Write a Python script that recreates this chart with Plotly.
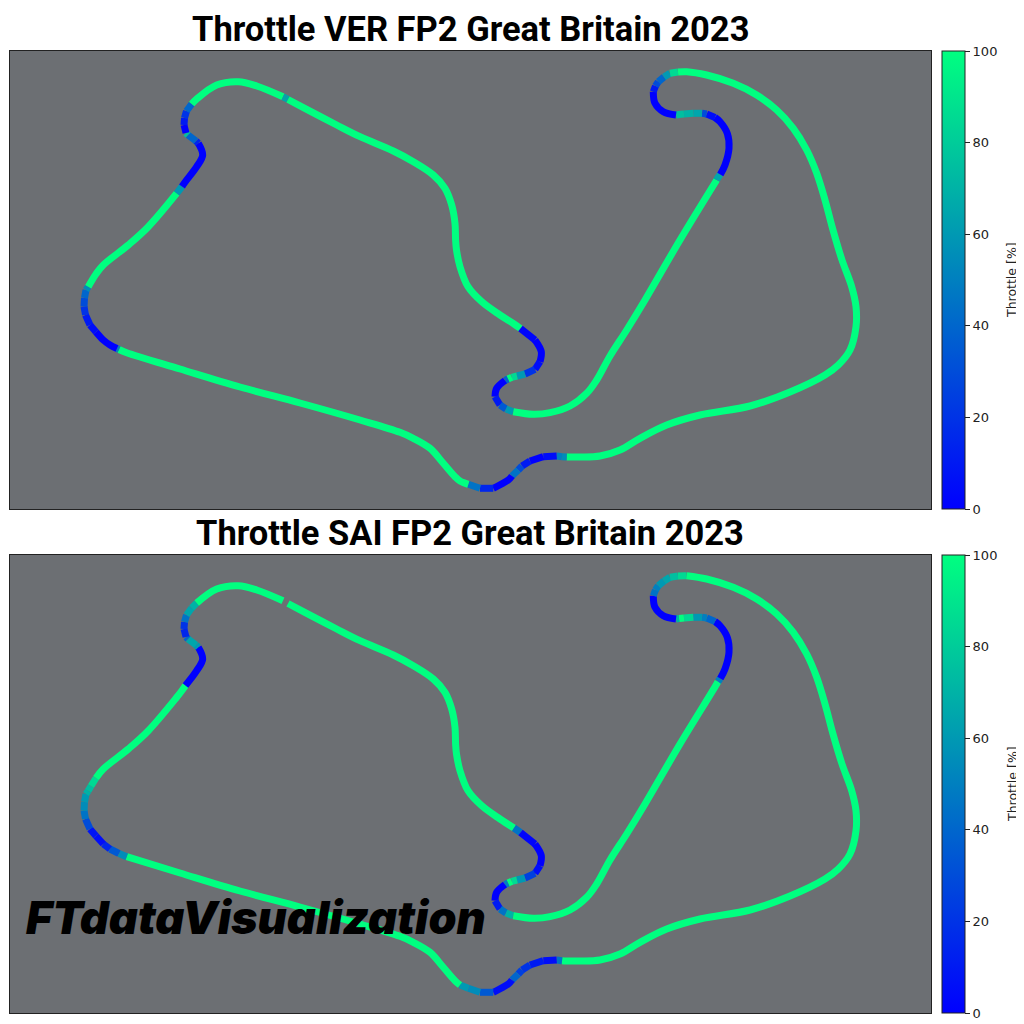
import plotly.graph_objects as go
from plotly.colors import sample_colorscale

# Silverstone track outline, one entry per point, starting at the lap line
track_x = [285.5, 288, 306.7, 336.7, 360, 393.3, 413.3, 433.3, 445, 451.7,
           455, 455.6, 456.5, 460, 468, 481.7, 500, 514, 520.5, 535,
           541.3, 540, 535, 525, 517, 511.7, 508, 505, 496.7, 495,
           500, 506, 513.3, 533.3, 550, 570, 586.7, 596.7, 610, 626.7,
           645, 680, 716.7, 718, 720.3, 725, 729, 727.3, 720, 715,
           706.7, 702, 693.3, 684, 679, 676, 663.3, 655, 653.3, 655.5,
           658.3, 664, 670, 678, 686.7, 706.7, 733.3, 756.7, 776.7, 793.3,
           806.7, 816.7, 825, 833, 842, 851.7, 856, 856, 850, 838.3,
           825, 790, 750, 700, 666.7, 640, 620, 600, 580, 566.7,
           562, 556.7, 543.3, 530, 522, 518.3, 512, 508.3, 493.3, 480,
           468.3, 460, 455, 443.3, 430, 413.3, 400, 360, 300, 240,
           180, 126.7, 119, 117, 110, 103.3, 96, 90, 85.5, 84,
           84.5, 86, 88.3, 91, 96, 103.3, 128.3, 148.3, 176.7, 182,
           185.5, 196.7, 202.7, 198.3, 196, 188, 186, 184, 184.5, 186.5,
           191.7, 196.7, 216.7, 238.3, 256.7, 283, 285.5]
track_y = [98, 99.5, 109.3, 125, 136.7, 151, 161.7, 175, 188.3, 205,
           223.3, 240, 250, 266.7, 286.7, 301.7, 315, 324, 328.5, 340,
           351.7, 361.7, 369.3, 374, 376, 377.3, 379, 380.5, 388.3, 396.7,
           405, 409, 411.7, 414.3, 412.7, 406, 393.3, 380, 356, 330,
           300, 240, 180, 177.5, 174.5, 165, 148.3, 133.3, 121.7, 117.5,
           114, 113.3, 113.3, 114, 114.5, 115, 111.7, 103.3, 91.7, 86,
           81.7, 77, 73.3, 72, 71.7, 75, 83.3, 95, 110, 128.3,
           150, 173.3, 200, 230, 260, 286.7, 306.7, 326.7, 350, 365,
           375, 392, 406, 415, 425, 438.3, 450, 456, 457, 457,
           456.7, 456, 456.7, 461, 466, 470, 476, 480, 488.3, 488.3,
           484.3, 481, 476.7, 463.3, 448.3, 438.3, 432.3, 420, 403, 387,
           369, 352.7, 349.5, 348.5, 345, 340, 332, 325, 315, 306.7,
           298, 290, 286.7, 282, 274, 265, 245, 226.7, 193.3, 186.5,
           181.5, 166.7, 155, 143.3, 141, 135, 133, 125, 118, 111,
           104, 99, 85, 81.7, 86, 96.8, 98]

# Throttle per point, the value colours the stretch up to the next point
ver_throttle = [65, 100, 100, 100, 100, 100, 100, 100, 100, 100,
                100, 100, 100, 100, 100, 100, 100, 100, 2, 0,
                0, 5, 20, 60, 85, 100, 40, 0, 0, 10,
                35, 60, 100, 100, 100, 100, 100, 100, 100, 100,
                100, 100, 65, 65, 0, 0, 0, 0, 0, 5,
                30, 65, 70, 75, 75, 0, 0, 0, 10, 30,
                40, 60, 85, 100, 100, 100, 100, 100, 100, 100,
                100, 100, 100, 100, 100, 100, 100, 100, 100, 100,
                100, 100, 100, 100, 100, 100, 100, 100, 100, 55,
                50, 5, 0, 10, 30, 45, 0, 0, 15, 45,
                100, 100, 100, 100, 100, 100, 100, 100, 100, 100,
                100, 100, 50, 0, 0, 0, 5, 10, 20, 30,
                40, 55, 100, 100, 100, 100, 100, 100, 60, 0,
                0, 0, 0, 15, 40, 75, 0, 10, 20, 40,
                100, 100, 100, 100, 100, 65, 65]
sai_throttle = [None, 100, 100, 100, 100, 100, 100, 100, 100, 100,
                100, 100, 100, 100, 100, 100, 100, 45, 2, 0,
                0, 5, 25, 60, 85, 100, 50, 0, 0, 10,
                45, 70, 100, 100, 100, 100, 100, 100, 100, 100,
                100, 100, 100, 50, 0, 0, 0, 0, 0, 40,
                50, 60, 85, 100, 70, 0, 0, 0, 45, 50,
                60, 65, 75, 85, 100, 100, 100, 100, 100, 100,
                100, 100, 100, 100, 100, 100, 100, 100, 100, 100,
                100, 100, 100, 100, 100, 100, 100, 100, 100, 100,
                45, 5, 10, 20, 25, 40, 5, 5, 35, 55,
                60, 100, 100, 100, 100, 100, 100, 100, 100, 100,
                100, 55, 35, 35, 15, 5, 8, 30, 45, 55,
                60, 70, 75, 85, 100, 100, 100, 100, 100, 100,
                0, 0, 0, 60, 65, 40, 15, 20, 45, 65,
                70, 100, 100, 100, 100, None, None]

titles = ["Throttle VER FP2 Great Britain 2023", "Throttle SAI FP2 Great Britain 2023"]
colorbar_label = "Throttle [%]"
colorbar_ticks = [0, 20, 40, 60, 80, 100]
winter = [[0, "#0000ff"], [1, "#00ff80"]]
bg = "#6c6f73"

# the page keeps its 8px body margin, so the figure starts at 8 and runs to the window edge
SIZE = 1016


def px_x(v):
    return (v - 8) / SIZE


def px_y(v):
    return 1 - (v - 8) / SIZE


def add_track(fig, throttle, ax):
    # one trace per stretch of equal colour so the long green parts stay smooth
    i = 0
    while i < len(throttle) - 1:
        j = i + 1
        while j < len(throttle) - 1 and throttle[j] == throttle[i]:
            j += 1
        if throttle[i] is not None:
            fig.add_trace(go.Scatter(
                x=track_x[i:j + 1], y=track_y[i:j + 1], mode="lines",
                line=dict(color=sample_colorscale(winter, throttle[i] / 100)[0], width=7,
                          shape="spline", smoothing=1),
                xaxis="x" + ax, yaxis="y" + ax, showlegend=False, hoverinfo="skip"))
        i = j


def add_colorbar(fig, ax, top):
    fig.add_trace(go.Scatter(
        x=[None], y=[None], mode="markers", xaxis="x" + ax, yaxis="y" + ax, showlegend=False,
        marker=dict(color=[0], cmin=0, cmax=100, colorscale=winter, showscale=True,
                    colorbar=dict(x=px_x(942), xanchor="left", y=px_y(top), yanchor="top",
                                  len=458 / SIZE, lenmode="fraction", thickness=23, thicknessmode="pixels",
                                  xpad=0, ypad=0, outlinecolor="#222222", outlinewidth=1,
                                  tickvals=colorbar_ticks, ticks="outside", ticklen=5, tickwidth=1,
                                  tickcolor="#222222",
                                  tickfont=dict(family="DejaVu Sans", size=13, color="#222222")))))


fig = go.Figure()
add_track(fig, ver_throttle, "")
add_colorbar(fig, "", 51)
add_track(fig, sai_throttle, "2")
add_colorbar(fig, "2", 555)

axis_style = dict(range=[10, 931], showgrid=False, zeroline=False, showticklabels=False, ticks="",
                  showline=True, mirror=True, linecolor="#222222", linewidth=1)
yaxis_style = dict(axis_style, range=[509, 51])
title_font = dict(family="Roboto", size=34.5, weight=700, color="black")
label_font = dict(family="DejaVu Sans", size=12.5, color="#222222")
fig.update_layout(
    width=SIZE, height=SIZE, margin=dict(l=0, r=0, t=0, b=0), autosize=False,
    paper_bgcolor="white", plot_bgcolor=bg,
    xaxis=dict(axis_style, domain=[px_x(10), px_x(931)], anchor="y"),
    yaxis=dict(yaxis_style, domain=[px_y(509), px_y(51)], anchor="x"),
    xaxis2=dict(axis_style, domain=[px_x(10), px_x(931)], anchor="y2"),
    yaxis2=dict(yaxis_style, domain=[px_y(1013), px_y(555)], anchor="x2"),
    annotations=[
        dict(text=titles[0], x=px_x(470), y=px_y(29), xref="paper", yref="paper", showarrow=False,
             xanchor="center", yanchor="middle", font=title_font),
        dict(text=titles[1], x=px_x(470), y=px_y(533), xref="paper", yref="paper", showarrow=False,
             xanchor="center", yanchor="middle", font=title_font),
        dict(text=colorbar_label, x=px_x(1012), y=px_y(280), xref="paper", yref="paper", showarrow=False,
             textangle=-90, xanchor="center", yanchor="middle", font=label_font),
        dict(text=colorbar_label, x=px_x(1012), y=px_y(784), xref="paper", yref="paper", showarrow=False,
             textangle=-90, xanchor="center", yanchor="middle", font=label_font),
        dict(text="FTdataVisualization", x=px_x(24), y=px_y(917), xref="paper", yref="paper", showarrow=False,
             xanchor="left", yanchor="middle",
             font=dict(family="Inter", size=45, weight=900, style="italic", color="black")),
    ],
)

fig.write_html("out.html")
